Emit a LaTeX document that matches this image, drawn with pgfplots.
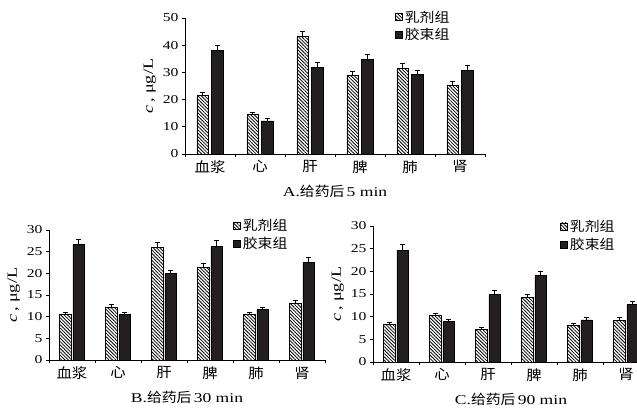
\documentclass[border=0pt]{standalone}
\usepackage{fontspec}
\setmainfont{Liberation Serif}[FakeStretch=1.3]
\newfontfamily\cjk{Noto Sans CJK SC}[FakeStretch=1.1]
\usepackage{pgfplots}
\pgfplotsset{compat=1.18}
\usetikzlibrary{patterns.meta}
\definecolor{darkbar}{HTML}{231F20}
\pgfplotsset{
  mybar/.style={
    scale only axis, ybar,
    axis x line*=bottom, axis y line*=left,
    axis line style={line width=0.8pt},
    xmin=-0.5, xmax=5.5, ymin=0,
    xtick={-0.5,0.5,...,5.5},
    x tick label as interval,
    xticklabels={血浆,心,肝,脾,肺,肾},
    tick align=outside, major tick length=3pt,
    tick style={line width=0.8pt,black},
    /pgf/number format/assume math mode=true,
    y tick label style={font=\fontsize{12}{14}\selectfont},
    x tick label style={font=\cjk\fontsize{14}{16}\selectfont},
    ylabel={\textit{c}\,, μg/L},
    ylabel style={font=\fontsize{14}{16}\selectfont},
    xlabel style={font=\fontsize{13.5}{15}\selectfont, yshift=-5pt},
    legend style={draw=none, fill=none, anchor=north west,
      font=\cjk\fontsize{13.5}{15}\selectfont, row sep=1pt, inner sep=0pt},
    legend cell align=left,
    legend image code/.code={\draw[##1,line width=0.6pt] (0pt,-3.5pt) rectangle (7pt,3.5pt);},
    error bars/y dir=plus, error bars/y explicit,
    error bars/error bar style={line width=0.7pt,black},
    error bars/error mark options={rotate=90,mark size=2.5pt,line width=0.7pt,black},
  },
  hatch/.style={draw=black, line width=0.6pt,
    pattern={Lines[angle=-45,distance=2.4pt,line width=0.8pt]}},
  dark/.style={draw=black, line width=0.6pt, fill=darkbar},
}
\begin{document}
\begin{tikzpicture}
\useasboundingbox (0,0) rectangle (637pt,407pt);
\clip (0,0) rectangle (637pt,407pt);
% ---- A ----
\begin{axis}[mybar, at={(185pt,253pt)}, anchor=south west,
  width=300pt, height=136pt, ymax=50, ytick={0,10,...,50},
  bar width=0.234,
  xlabel={A.{\cjk 给药后}\,5 min},
  legend style={at={(0.70,1.07)}}]
\addplot[hatch, bar shift=-0.144] coordinates {
 (0,21.5) +- (0,1.2) (1,14.5) +- (0,0.7) (2,43.1) +- (0,2.1)
 (3,29.0) +- (0,1.5) (4,31.6) +- (0,1.6) (5,25.1) +- (0,1.5)};
\addplot[dark, bar shift=0.144] coordinates {
 (0,38.0) +- (0,2.0) (1,12.2) +- (0,1.0) (2,31.9) +- (0,1.8)
 (3,34.8) +- (0,2.0) (4,29.2) +- (0,1.7) (5,30.8) +- (0,1.8)};
\legend{乳剂组,胶束组}
\end{axis}
% ---- B ----
\begin{axis}[mybar, at={(49pt,47pt)}, anchor=south west,
  width=276pt, height=130pt, ymax=30, ytick={0,5,...,30},
  bar width=0.245,
  xlabel={B.{\cjk 给药后}\,30 min},
  legend style={at={(0.667,1.10)}}]
\addplot[hatch, bar shift=-0.143] coordinates {
 (0,10.5) +- (0,0.6) (1,12.2) +- (0,0.6) (2,25.9) +- (0,1.2)
 (3,21.3) +- (0,1.1) (4,10.5) +- (0,0.6) (5,13.1) +- (0,0.7)};
\addplot[dark, bar shift=0.143] coordinates {
 (0,26.6) +- (0,1.3) (1,10.5) +- (0,0.5) (2,19.9) +- (0,0.9)
 (3,26.3) +- (0,1.3) (4,11.6) +- (0,0.5) (5,22.5) +- (0,1.1)};
\legend{乳剂组,胶束组}
\end{axis}
% ---- C ----
\begin{axis}[mybar, at={(373pt,45pt)}, anchor=south west,
  width=276pt, height=136pt, ymax=30, ytick={0,5,...,30},
  bar width=0.245,
  xlabel={C.{\cjk 给药后}\,90 min},
  legend style={at={(0.678,1.06)}}]
\addplot[hatch, bar shift=-0.143] coordinates {
 (0,8.3) +- (0,0.45) (1,10.2) +- (0,0.6) (2,7.2) +- (0,0.35)
 (3,14.3) +- (0,0.7) (4,8.1) +- (0,0.45) (5,9.2) +- (0,0.6)};
\addplot[dark, bar shift=0.143] coordinates {
 (0,24.7) +- (0,1.3) (1,8.9) +- (0,0.45) (2,14.9) +- (0,0.8)
 (3,19.1) +- (0,0.9) (4,9.3) +- (0,0.5) (5,12.7) +- (0,0.6)};
\legend{乳剂组,胶束组}
\end{axis}
\end{tikzpicture}
\end{document}
